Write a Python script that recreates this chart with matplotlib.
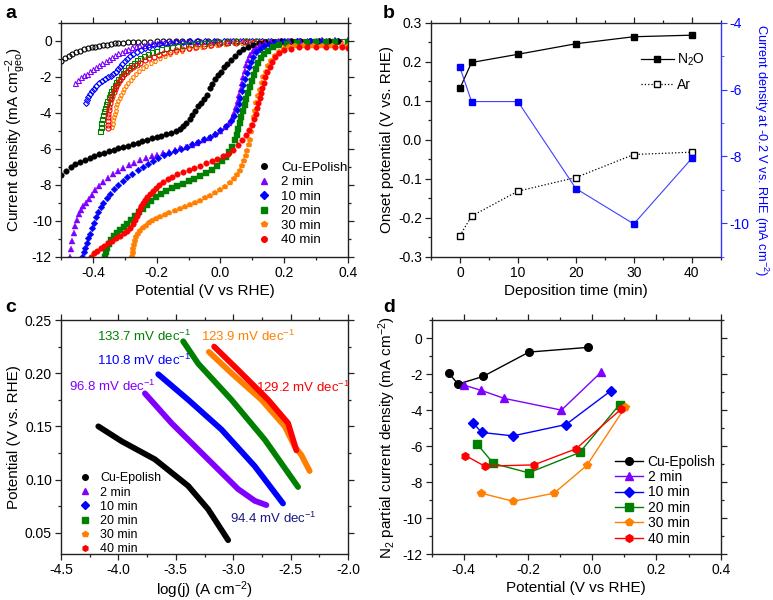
import numpy as np
import matplotlib
matplotlib.use("Agg")
import matplotlib.pyplot as plt
from matplotlib.ticker import MultipleLocator
from matplotlib.lines import Line2D

plt.rcParams['font.family'] = ['Liberation Sans', 'DejaVu Sans']
plt.rcParams['mathtext.fontset'] = 'custom'
plt.rcParams['mathtext.rm'] = 'Liberation Sans'
plt.rcParams['mathtext.it'] = 'Liberation Sans:italic'
plt.rcParams['axes.unicode_minus'] = False

# ---------------- data ----------------
labels_a = ['Cu-EPolish', '2 min', '10 min', '20 min', '30 min', '40 min']
labels_cd = ['Cu-Epolish', '2 min', '10 min', '20 min', '30 min', '40 min']
colors = ['#000000', '#8000FF', '#0000FF', '#008000', '#FF8000', '#FF0000']
markers = ['o', '^', 'D', 's', 'p', 'o']

# panel a, N2O saturated (filled markers): (E vs RHE, j mA cm-2)
lsv_cu = [(-0.50, -7.48), (-0.485, -7.22), (-0.47, -7.02), (-0.455, -6.86), (-0.44, -6.72),
          (-0.425, -6.60), (-0.41, -6.49), (-0.395, -6.39), (-0.38, -6.30), (-0.365, -6.22),
          (-0.35, -6.14), (-0.335, -6.06), (-0.32, -5.98), (-0.305, -5.90), (-0.29, -5.82),
          (-0.275, -5.74), (-0.26, -5.66), (-0.245, -5.58), (-0.23, -5.50), (-0.215, -5.42),
          (-0.20, -5.35), (-0.185, -5.28), (-0.17, -5.20), (-0.155, -5.12), (-0.14, -5.02),
          (-0.128, -4.90), (-0.117, -4.74), (-0.107, -4.55), (-0.097, -4.33), (-0.088, -4.10),
          (-0.079, -3.87), (-0.070, -3.64), (-0.061, -3.43), (-0.052, -3.22), (-0.043, -2.98),
          (-0.034, -2.62), (-0.025, -2.38), (-0.016, -2.14), (-0.007, -1.92), (0.002, -1.70),
          (0.012, -1.47), (0.022, -1.27), (0.033, -1.05), (0.045, -0.82), (0.058, -0.62),
          (0.072, -0.46), (0.087, -0.33), (0.103, -0.23), (0.12, -0.14), (0.14, -0.08),
          (0.165, -0.04), (0.19, -0.02), (0.22, -0.01), (0.25, 0.0), (0.28, 0.0),
          (0.31, 0.0), (0.34, 0.0), (0.37, 0.0), (0.40, 0.0)]
lsv_2 = [(-0.472, -12.0), (-0.468, -11.55), (-0.464, -11.1), (-0.460, -10.7), (-0.455, -10.3),
         (-0.450, -9.95), (-0.444, -9.62), (-0.437, -9.40), (-0.430, -9.20), (-0.422, -9.00),
         (-0.413, -8.78), (-0.403, -8.55), (-0.392, -8.30), (-0.380, -8.08), (-0.367, -7.86),
         (-0.353, -7.64), (-0.338, -7.42), (-0.322, -7.22), (-0.305, -7.05), (-0.288, -6.90),
         (-0.270, -6.76), (-0.252, -6.63), (-0.234, -6.52), (-0.216, -6.42), (-0.198, -6.33),
         (-0.180, -6.24), (-0.162, -6.15), (-0.144, -6.07), (-0.126, -5.98), (-0.108, -5.88),
         (-0.090, -5.78), (-0.072, -5.66), (-0.054, -5.52), (-0.036, -5.37), (-0.018, -5.20),
         (0.000, -5.00), (0.014, -4.80), (0.026, -4.58), (0.036, -4.30), (0.044, -4.00),
         (0.050, -3.68), (0.055, -3.35), (0.059, -3.02), (0.063, -2.68), (0.067, -2.33),
         (0.071, -2.00), (0.076, -1.65), (0.081, -1.35), (0.087, -1.06), (0.094, -0.80),
         (0.102, -0.57), (0.112, -0.38), (0.124, -0.24), (0.14, -0.13), (0.16, -0.07),
         (0.185, -0.03), (0.215, -0.01), (0.25, 0.01), (0.285, 0.02), (0.32, 0.03),
         (0.36, 0.03), (0.40, 0.03)]
lsv_10 = [(-0.433, -12.0), (-0.429, -11.75), (-0.425, -11.50), (-0.420, -11.22), (-0.415, -10.98),
          (-0.410, -10.72), (-0.404, -10.42), (-0.398, -10.10), (-0.391, -9.80), (-0.384, -9.52),
          (-0.376, -9.25), (-0.367, -9.00), (-0.357, -8.75), (-0.346, -8.50), (-0.334, -8.26),
          (-0.321, -8.02), (-0.307, -7.80), (-0.292, -7.58), (-0.276, -7.38), (-0.260, -7.18),
          (-0.244, -7.00), (-0.228, -6.83), (-0.212, -6.67), (-0.196, -6.52), (-0.178, -6.37),
          (-0.160, -6.24), (-0.142, -6.12), (-0.124, -6.00), (-0.106, -5.88), (-0.088, -5.75),
          (-0.070, -5.62), (-0.052, -5.48), (-0.034, -5.32), (-0.017, -5.15), (0.000, -4.95),
          (0.018, -4.72), (0.032, -4.45), (0.043, -4.15), (0.051, -3.82), (0.057, -3.48),
          (0.062, -3.15), (0.067, -2.80), (0.072, -2.45), (0.077, -2.10), (0.082, -1.77),
          (0.088, -1.45), (0.095, -1.15), (0.103, -0.88), (0.112, -0.64), (0.123, -0.43),
          (0.136, -0.27), (0.152, -0.15), (0.172, -0.07), (0.20, -0.02), (0.24, 0.0),
          (0.28, 0.02), (0.32, 0.02), (0.36, 0.02), (0.40, 0.02)]
lsv_20 = [(-0.362, -12.0), (-0.359, -11.75), (-0.355, -11.5), (-0.349, -11.27), (-0.342, -11.05),
          (-0.334, -10.85), (-0.325, -10.68), (-0.315, -10.52), (-0.304, -10.36), (-0.292, -10.17),
          (-0.280, -9.96), (-0.268, -9.76), (-0.256, -9.54), (-0.244, -9.32), (-0.231, -9.11),
          (-0.217, -8.90), (-0.202, -8.70), (-0.186, -8.51), (-0.170, -8.34), (-0.153, -8.19),
          (-0.136, -8.05), (-0.118, -7.93), (-0.100, -7.81), (-0.082, -7.68), (-0.064, -7.53),
          (-0.046, -7.36), (-0.028, -7.15), (-0.011, -6.93), (0.004, -6.70), (0.017, -6.45),
          (0.028, -6.18), (0.037, -5.90), (0.045, -5.52), (0.051, -5.22), (0.056, -4.92),
          (0.061, -4.55), (0.066, -4.22), (0.071, -3.88), (0.076, -3.55), (0.081, -3.22),
          (0.086, -2.90), (0.092, -2.55), (0.098, -2.20), (0.104, -1.88), (0.111, -1.55),
          (0.119, -1.25), (0.128, -0.97), (0.138, -0.73), (0.150, -0.53), (0.165, -0.36),
          (0.185, -0.24), (0.21, -0.16), (0.24, -0.11), (0.27, -0.09), (0.30, -0.08),
          (0.33, -0.07), (0.36, -0.07), (0.40, -0.07)]
lsv_30 = [(-0.277, -12.0), (-0.275, -11.78), (-0.273, -11.56), (-0.271, -11.34), (-0.268, -11.13),
          (-0.264, -10.93), (-0.259, -10.74), (-0.252, -10.57), (-0.244, -10.42), (-0.235, -10.28),
          (-0.225, -10.15), (-0.214, -10.03), (-0.202, -9.92), (-0.189, -9.80), (-0.175, -9.68),
          (-0.160, -9.56), (-0.144, -9.44), (-0.128, -9.32), (-0.112, -9.21), (-0.096, -9.10),
          (-0.080, -8.99), (-0.064, -8.88), (-0.048, -8.76), (-0.032, -8.62), (-0.016, -8.47),
          (0.000, -8.30), (0.015, -8.12), (0.029, -7.92), (0.041, -7.70), (0.052, -7.46),
          (0.061, -7.21), (0.068, -6.95), (0.074, -6.68), (0.079, -6.40), (0.084, -6.10),
          (0.088, -5.80), (0.092, -5.50), (0.096, -5.08), (0.100, -4.65), (0.104, -4.25),
          (0.108, -3.88), (0.113, -3.45), (0.118, -3.05), (0.123, -2.70), (0.129, -2.35),
          (0.135, -2.02), (0.142, -1.70), (0.150, -1.40), (0.159, -1.12), (0.170, -0.86),
          (0.183, -0.63), (0.198, -0.46), (0.215, -0.36), (0.235, -0.30), (0.26, -0.27),
          (0.29, -0.26), (0.32, -0.26), (0.35, -0.26), (0.38, -0.27), (0.40, -0.28)]
lsv_40 = [(-0.405, -12.0), (-0.396, -11.82), (-0.386, -11.67), (-0.375, -11.52), (-0.364, -11.38),
          (-0.352, -11.23), (-0.340, -11.10), (-0.328, -10.97), (-0.316, -10.84), (-0.304, -10.70),
          (-0.293, -10.55), (-0.283, -10.38), (-0.275, -10.18), (-0.268, -9.96), (-0.263, -9.75),
          (-0.258, -9.55), (-0.253, -9.36), (-0.248, -9.18), (-0.243, -9.01), (-0.237, -8.84),
          (-0.230, -8.66), (-0.222, -8.49), (-0.213, -8.32), (-0.203, -8.16), (-0.192, -8.00),
          (-0.180, -7.85), (-0.166, -7.70), (-0.151, -7.55), (-0.135, -7.42), (-0.118, -7.30),
          (-0.100, -7.18), (-0.082, -7.06), (-0.064, -6.93), (-0.046, -6.81), (-0.028, -6.69),
          (-0.010, -6.56), (0.008, -6.42), (0.025, -6.26), (0.040, -6.08), (0.054, -5.80),
          (0.067, -5.52), (0.079, -5.25), (0.090, -4.95), (0.099, -4.65), (0.106, -4.35),
          (0.111, -4.05), (0.115, -3.75), (0.119, -3.45), (0.123, -3.17), (0.127, -2.90),
          (0.131, -2.62), (0.136, -2.32), (0.141, -2.02), (0.147, -1.72), (0.154, -1.43),
          (0.162, -1.15), (0.172, -0.88), (0.185, -0.66), (0.20, -0.52), (0.22, -0.42),
          (0.245, -0.35), (0.27, -0.32), (0.30, -0.31), (0.33, -0.31), (0.36, -0.33),
          (0.38, -0.36), (0.40, -0.40)]

# panel a, Ar saturated (open markers)
ar_cu = [(-0.50, -1.11), (-0.488, -0.94), (-0.476, -0.81), (-0.464, -0.71), (-0.452, -0.62),
         (-0.440, -0.54), (-0.428, -0.47), (-0.416, -0.41), (-0.404, -0.36), (-0.392, -0.31),
         (-0.380, -0.27), (-0.368, -0.23), (-0.356, -0.20), (-0.344, -0.17), (-0.332, -0.14),
         (-0.320, -0.12), (-0.305, -0.10), (-0.290, -0.08), (-0.275, -0.06), (-0.26, -0.05),
         (-0.24, -0.04), (-0.22, -0.03), (-0.20, -0.02), (-0.18, -0.02), (-0.16, -0.01),
         (-0.14, -0.01), (-0.12, 0.0), (-0.10, 0.0), (-0.07, 0.0), (-0.04, 0.0), (-0.01, 0.0),
         (0.02, 0.0), (0.05, 0.0), (0.08, 0.0), (0.11, 0.0)]
ar_2 = [(-0.456, -2.31), (-0.447, -2.16), (-0.438, -2.03), (-0.429, -1.92), (-0.420, -1.81),
        (-0.410, -1.68), (-0.400, -1.55), (-0.390, -1.43), (-0.380, -1.31), (-0.370, -1.20),
        (-0.360, -1.09), (-0.350, -0.99), (-0.340, -0.89), (-0.330, -0.79), (-0.320, -0.69),
        (-0.310, -0.60), (-0.300, -0.51), (-0.289, -0.43), (-0.278, -0.36), (-0.266, -0.30),
        (-0.254, -0.25), (-0.241, -0.20), (-0.228, -0.16), (-0.214, -0.12), (-0.200, -0.09),
        (-0.185, -0.07), (-0.170, -0.05), (-0.155, -0.03), (-0.14, -0.02), (-0.12, -0.01),
        (-0.10, 0.0), (-0.08, 0.0), (-0.06, 0.01), (-0.04, 0.01), (-0.02, 0.02), (0.0, 0.02),
        (0.03, 0.03), (0.06, 0.03), (0.09, 0.03), (0.12, 0.03), (0.15, 0.03), (0.18, 0.03),
        (0.21, 0.03), (0.24, 0.03), (0.27, 0.03), (0.30, 0.03), (0.33, 0.03), (0.36, 0.03),
        (0.40, 0.03)]
ar_10 = [(-0.423, -3.45), (-0.419, -3.28), (-0.415, -3.12), (-0.410, -2.96), (-0.404, -2.80),
         (-0.397, -2.65), (-0.389, -2.50), (-0.380, -2.36), (-0.371, -2.22), (-0.362, -2.10),
         (-0.353, -2.02), (-0.344, -1.96), (-0.336, -1.86), (-0.329, -1.72), (-0.322, -1.57),
         (-0.315, -1.42), (-0.308, -1.27), (-0.300, -1.12), (-0.292, -0.98), (-0.283, -0.85),
         (-0.273, -0.72), (-0.262, -0.60), (-0.250, -0.49), (-0.237, -0.39), (-0.223, -0.31),
         (-0.208, -0.24), (-0.192, -0.18), (-0.175, -0.13), (-0.157, -0.09), (-0.138, -0.06),
         (-0.118, -0.04), (-0.097, -0.02), (-0.075, -0.01), (-0.05, 0.0), (-0.02, 0.01),
         (0.01, 0.02), (0.04, 0.02), (0.07, 0.02), (0.10, 0.02), (0.13, 0.02), (0.16, 0.02),
         (0.19, 0.02), (0.22, 0.02), (0.25, 0.02), (0.28, 0.02), (0.31, 0.02), (0.34, 0.02),
         (0.37, 0.02), (0.40, 0.02)]
ar_20 = [(-0.377, -5.00), (-0.375, -4.78), (-0.373, -4.56), (-0.371, -4.34), (-0.368, -4.13),
         (-0.365, -3.92), (-0.362, -3.72), (-0.359, -3.52), (-0.355, -3.32), (-0.351, -3.13),
         (-0.347, -2.95), (-0.342, -2.77), (-0.337, -2.60), (-0.332, -2.43), (-0.326, -2.26),
         (-0.320, -2.09), (-0.313, -1.93), (-0.306, -1.78), (-0.298, -1.62), (-0.290, -1.47),
         (-0.281, -1.33), (-0.272, -1.20), (-0.262, -1.07), (-0.251, -0.95), (-0.240, -0.84),
         (-0.228, -0.74), (-0.215, -0.64), (-0.201, -0.55), (-0.186, -0.47), (-0.170, -0.39),
         (-0.153, -0.32), (-0.135, -0.26), (-0.116, -0.21), (-0.096, -0.17), (-0.075, -0.13),
         (-0.053, -0.10), (-0.030, -0.07), (-0.006, -0.05), (0.02, -0.03), (0.05, -0.02),
         (0.08, -0.01), (0.11, 0.0), (0.14, 0.0), (0.17, 0.0), (0.20, 0.0), (0.23, 0.0),
         (0.26, 0.0), (0.29, 0.0), (0.32, 0.0), (0.35, 0.0), (0.38, 0.0), (0.40, 0.0)]
ar_30 = [(-0.339, -4.78), (-0.338, -4.60), (-0.336, -4.42), (-0.334, -4.24), (-0.332, -4.06),
         (-0.329, -3.88), (-0.326, -3.70), (-0.323, -3.52), (-0.320, -3.35), (-0.316, -3.17),
         (-0.312, -3.00), (-0.307, -2.82), (-0.302, -2.65), (-0.296, -2.48), (-0.289, -2.31),
         (-0.282, -2.15), (-0.274, -2.00), (-0.265, -1.84), (-0.255, -1.68), (-0.244, -1.52),
         (-0.232, -1.38), (-0.219, -1.24), (-0.205, -1.10), (-0.190, -0.97), (-0.174, -0.85),
         (-0.157, -0.74), (-0.139, -0.64), (-0.120, -0.55), (-0.100, -0.47), (-0.079, -0.40),
         (-0.057, -0.33), (-0.034, -0.27), (-0.010, -0.22), (0.015, -0.17), (0.041, -0.13),
         (0.068, -0.10), (0.096, -0.07), (0.125, -0.05), (0.155, -0.04), (0.185, -0.03),
         (0.215, -0.03), (0.245, -0.03), (0.275, -0.03), (0.305, -0.04), (0.335, -0.04),
         (0.365, -0.05), (0.40, -0.06)]
ar_40 = [(-0.352, -4.85), (-0.354, -4.65), (-0.354, -4.45), (-0.353, -4.25), (-0.352, -4.05),
         (-0.350, -3.85), (-0.348, -3.65), (-0.345, -3.45), (-0.342, -3.25), (-0.339, -3.05),
         (-0.335, -2.86), (-0.331, -2.68), (-0.326, -2.50), (-0.321, -2.33), (-0.315, -2.17),
         (-0.308, -2.01), (-0.301, -1.86), (-0.293, -1.72), (-0.284, -1.58), (-0.274, -1.45),
         (-0.263, -1.32), (-0.251, -1.20), (-0.238, -1.08), (-0.224, -0.97), (-0.209, -0.87),
         (-0.193, -0.77), (-0.176, -0.68), (-0.158, -0.60), (-0.139, -0.52), (-0.119, -0.45),
         (-0.098, -0.39), (-0.076, -0.33), (-0.053, -0.28), (-0.029, -0.23), (-0.004, -0.18),
         (0.022, -0.14), (0.049, -0.10), (0.077, -0.07), (0.106, -0.05), (0.136, -0.04),
         (0.166, -0.04), (0.196, -0.04), (0.226, -0.04), (0.256, -0.05), (0.286, -0.05),
         (0.316, -0.06), (0.346, -0.07), (0.376, -0.08), (0.40, -0.09)]

lsv_n2o = [lsv_cu, lsv_2, lsv_10, lsv_20, lsv_30, lsv_40]
lsv_ar = [ar_cu, ar_2, ar_10, ar_20, ar_30, ar_40]

# panel b
dep_time = [0, 2, 10, 20, 30, 40]
onset_n2o = [0.132, 0.198, 0.219, 0.246, 0.264, 0.268]
onset_ar = [-0.246, -0.196, -0.132, -0.097, -0.038, -0.032]
j_at_m02 = [-5.34, -6.36, -6.36, -8.96, -10.02, -8.06]

# panel c, Tafel: (log j, E)
tafel = [
    [(-4.175, 0.150), (-3.972, 0.136), (-3.682, 0.119), (-3.392, 0.094), (-3.218, 0.072), (-3.044, 0.043)],
    [(-3.769, 0.181), (-3.537, 0.153), (-3.247, 0.122), (-2.957, 0.091), (-2.812, 0.080), (-2.711, 0.076)],
    [(-3.653, 0.199), (-3.392, 0.175), (-3.102, 0.147), (-2.812, 0.1125), (-2.566, 0.0775)],
    [(-3.436, 0.230), (-3.305, 0.209), (-3.015, 0.175), (-2.725, 0.1375), (-2.435, 0.093)],
    [(-3.212, 0.220), (-3.015, 0.200), (-2.754, 0.175), (-2.551, 0.150), (-2.464, 0.131),
     (-2.406, 0.123), (-2.334, 0.108)],
    [(-3.166, 0.225), (-2.957, 0.203), (-2.696, 0.175), (-2.522, 0.153), (-2.450, 0.1275)],
]
tafel_slopes = ['94.4', '96.8', '110.8', '133.7', '123.9', '129.2']
slope_colors = ['#1a1a80', '#8000FF', '#0000FF', '#008000', '#FF8000', '#FF0000']
slope_pos = [(-3.028, 0.0632), (-4.430, 0.1873), (-4.186, 0.2117), (-4.186, 0.2343),
             (-3.283, 0.2343), (-2.804, 0.187)]

# panel d, N2 partial current density: (E, j)
n2_partial = [
    [(-0.447, -1.94), (-0.418, -2.56), (-0.340, -2.13), (-0.197, -0.78), (-0.014, -0.52)],
    [(-0.400, -2.61), (-0.345, -2.91), (-0.274, -3.35), (-0.096, -4.00), (0.028, -1.89)],
    [(-0.371, -4.72), (-0.344, -5.24), (-0.247, -5.43), (-0.082, -4.80), (0.057, -2.94)],
    [(-0.359, -5.87), (-0.308, -6.96), (-0.198, -7.48), (-0.039, -6.35), (0.085, -3.69)],
    [(-0.346, -8.61), (-0.246, -9.06), (-0.119, -8.61), (-0.017, -7.07), (0.102, -3.85)],
    [(-0.395, -6.52), (-0.335, -7.11), (-0.182, -7.04), (-0.051, -6.15), (0.091, -3.93)],
]

LAB = 11      # axis label size
TICK = 10     # tick label size


def style_axes(ax):
    for s in ax.spines.values():
        s.set_linewidth(1.0)
        s.set_color('#222222')
    ax.tick_params(which='both', direction='out', top=True, right=True,
                   labelsize=TICK, width=0.9, color='#222222', pad=2.5)
    ax.tick_params(which='major', length=4)
    ax.tick_params(which='minor', length=2.5)


fig = plt.figure(figsize=(7.73, 6.0), dpi=100)
W, H = 773.0, 600.0


def add_ax(l, t, r, b):
    return fig.add_axes([l / W, 1 - b / H, (r - l) / W, (b - t) / H])


# ---------------- panel a ----------------
ax = add_ax(61, 23, 348, 256.7)
for pts, c, m in zip(lsv_ar, colors, markers):
    e, j = np.array(pts).T
    ms = 3.0 if m == 'D' else 3.6
    ax.plot(e, j, ls='none', marker=m, ms=ms, mfc='none', mec=c, mew=0.8)
for pts, c, m in zip(lsv_n2o, colors, markers):
    e, j = np.array(pts).T
    ms = 3.4 if m == 'D' else 4.0
    ax.plot(e, j, ls='none', marker=m, ms=ms, color=c, mec=c, mew=0.3)
ax.set_xlim(-0.5, 0.4)
ax.set_ylim(-12, 1)
ax.xaxis.set_minor_locator(MultipleLocator(0.1))
ax.yaxis.set_major_locator(MultipleLocator(2))
ax.yaxis.set_minor_locator(MultipleLocator(1))
ax.set_xticks([-0.4, -0.2, 0.0, 0.2, 0.4])
ax.set_xticklabels(['-0.4', '-0.2', '0.0', '0.2', '0.4'])
style_axes(ax)
ax.set_xlabel('Potential (V vs RHE)', fontsize=LAB, labelpad=3)
ax.set_ylabel('Current density (mA cm$^{-2}_{\\rm geo}$)', fontsize=LAB, labelpad=3)
handles = [Line2D([], [], ls='none', marker=m, ms=4.0, color=c) for c, m in zip(colors, markers)]
ax.legend(handles, labels_a, loc='upper left', bbox_to_anchor=(0.665, 0.435), frameon=False,
          fontsize=9.5, handlelength=0.8, handletextpad=0.9, labelspacing=0.17, borderpad=0)

# ---------------- panel b ----------------
ax = add_ax(431, 22.7, 720.7, 256.7)
ax.plot(dep_time, onset_n2o, '-', color='black', lw=0.9, marker='s', ms=5, mfc='black', label='N$_2$O')
ax.plot(dep_time, onset_ar, ':', color='black', lw=0.9, marker='s', ms=5, mfc='white', label='Ar')
ax.set_xlim(-5, 45)
ax.set_ylim(-0.3, 0.3)
ax.xaxis.set_major_locator(MultipleLocator(10))
ax.xaxis.set_minor_locator(MultipleLocator(5))
ax.yaxis.set_minor_locator(MultipleLocator(0.05))
ax.set_yticks([0.3, 0.2, 0.1, 0.0, -0.1, -0.2, -0.3])
ax.set_yticklabels(['0.3', '0.2', '0.1', '0.0', '-0.1', '-0.2', '-0.3'])
style_axes(ax)
ax.tick_params(which='both', right=False)
ax.spines['right'].set_visible(False)
ax.set_xlabel('Deposition time (min)', fontsize=LAB, labelpad=3)
ax.set_ylabel('Onset potential (V vs. RHE)', fontsize=LAB, labelpad=3)
ax.legend(loc='upper left', bbox_to_anchor=(0.70, 0.905), frameon=False, fontsize=10,
          handlelength=2.4, handletextpad=0.2, labelspacing=0.7, borderpad=0)
ax2 = ax.twinx()
ax2.plot(dep_time, j_at_m02, '-', color='#4040ff', lw=0.8, marker='s', ms=4.5,
         mfc='#0000ff', mec='#0000ff')
ax2.set_ylim(-11, -4)
ax2.yaxis.set_major_locator(MultipleLocator(2))
ax2.yaxis.set_minor_locator(MultipleLocator(1))
for s in ['left', 'top', 'bottom']:
    ax2.spines[s].set_visible(False)
ax2.spines['right'].set_color('#3333ff')
ax2.spines['right'].set_linewidth(1.0)
ax2.tick_params(which='both', direction='out', colors='#3333ff', labelcolor='#0000ff',
                labelsize=TICK, pad=2.5)
ax2.tick_params(which='major', length=4)
ax2.tick_params(which='minor', length=2.5)
fig.text(761.5 / W, 1 - 150.5 / H, 'Current density at -0.2 V vs. RHE (mA cm$^{-2}$)',
         fontsize=9.2, color='#0000ff', rotation=270, ha='center', va='center')

# ---------------- panel c ----------------
ax = add_ax(61, 320, 348, 554)
for pts, c in zip(tafel, colors):
    x, y = np.array(pts).T
    ax.plot(x, y, '-', color=c, lw=4.2, solid_capstyle='round', solid_joinstyle='round')
for s, c, (x, y) in zip(tafel_slopes, slope_colors, slope_pos):
    ax.text(x, y, s + ' mV dec$^{-1}$', color=c, fontsize=9.5, ha='left', va='center')
ax.set_xlim(-4.5, -2.0)
ax.set_ylim(0.03, 0.25)
ax.xaxis.set_minor_locator(MultipleLocator(0.25))
ax.yaxis.set_minor_locator(MultipleLocator(0.025))
ax.set_xticks([-4.5, -4.0, -3.5, -3.0, -2.5, -2.0])
ax.set_xticklabels(['-4.5', '-4.0', '-3.5', '-3.0', '-2.5', '-2.0'])
ax.set_yticks([0.05, 0.10, 0.15, 0.20, 0.25])
ax.set_yticklabels(['0.05', '0.10', '0.15', '0.20', '0.25'])
style_axes(ax)
ax.set_xlabel('log(j) (A cm$^{-2}$)', fontsize=LAB, labelpad=2)
ax.set_ylabel('Potential (V vs. RHE)', fontsize=LAB, labelpad=3)
markers_cd = ['o', '^', 'D', 's', 'p', 'h']
handles = [Line2D([], [], ls='none', marker=m, ms=4.0, color=c) for c, m in zip(colors, markers_cd)]
ax.legend(handles, labels_cd, loc='upper left', bbox_to_anchor=(0.045, 0.375), frameon=False,
          fontsize=9, handlelength=0.8, handletextpad=0.8, labelspacing=0.17, borderpad=0)

# ---------------- panel d ----------------
ax = add_ax(431.7, 320, 720.7, 554.3)
for pts, c, m in zip(n2_partial, colors, markers_cd):
    e, j = np.array(pts).T
    ms = 5 if m == 'D' else 5.5
    ax.plot(e, j, '-', color=c, lw=1.0, marker=m, ms=ms, mfc=c, mec=c)
ax.set_xlim(-0.5, 0.4)
ax.set_ylim(-12, 1)
ax.xaxis.set_minor_locator(MultipleLocator(0.1))
ax.yaxis.set_major_locator(MultipleLocator(2))
ax.yaxis.set_minor_locator(MultipleLocator(1))
ax.set_xticks([-0.4, -0.2, 0.0, 0.2, 0.4])
ax.set_xticklabels(['-0.4', '-0.2', '0.0', '0.2', '0.4'])
style_axes(ax)
ax.set_xlabel('Potential (V vs RHE)', fontsize=LAB, labelpad=3)
ax.set_ylabel('N$_2$ partial current density (mA cm$^{-2}$)', fontsize=LAB, labelpad=3)
handles = [Line2D([], [], ls='-', lw=1.0, marker=m, ms=5.5, color=c) for c, m in zip(colors, markers_cd)]
ax.legend(handles, labels_cd, loc='upper left', bbox_to_anchor=(0.61, 0.455), frameon=False,
          fontsize=10, handlelength=2.0, handletextpad=0.35, labelspacing=0.1, borderpad=0)

# panel letters
for letter, (px, py) in zip('abcd', [(5, 18), (383, 18), (5, 312), (383, 312)]):
    fig.text(px / W, 1 - py / H, letter, fontsize=14, fontweight='bold', ha='left', va='baseline')

fig.savefig('out.png', dpi=100)
